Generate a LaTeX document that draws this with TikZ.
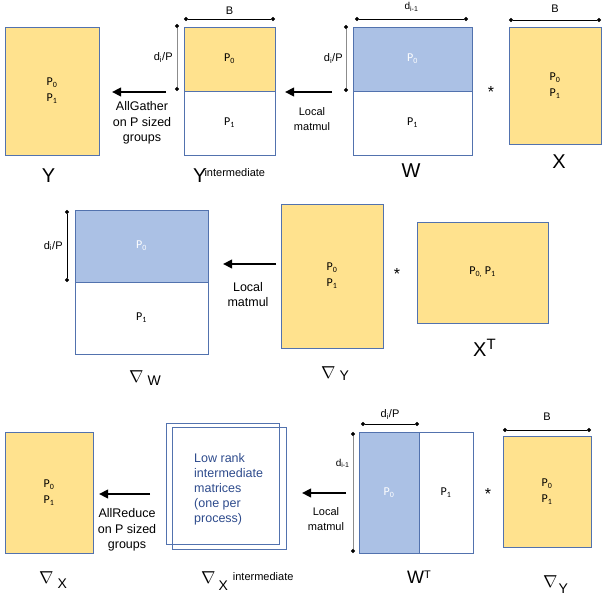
\documentclass[tikz,border=0pt]{standalone}
\usepackage{fontspec}
\setmainfont{Liberation Sans}
\newfontfamily\calib{Carlito}
\usetikzlibrary{positioning,arrows.meta}
\definecolor{oro}{HTML}{FFE28E}
\definecolor{azul}{HTML}{ABC1E5}
\definecolor{borde}{HTML}{5272AE}
\definecolor{tinta}{HTML}{2E4B8C}
\definecolor{gris}{HTML}{8C8C8C}
\newcommand{\pz}{P\textsubscript{0}}
\newcommand{\pu}{P\textsubscript{1}}
% gradient label: letter, drop, gap
\newcommand{\grd}[3]{{\fontsize{17}{17}\selectfont$\nabla$}\hspace{#3}\raisebox{-#2}{\fontsize{14}{14}\selectfont #1}}

\begin{document}
\begin{tikzpicture}[x=1pt,y=-1pt,
    blk/.style={draw=borde,line width=0.9pt,inner sep=0pt,outer sep=0pt,align=center,
                font=\calib\fontsize{12}{16}\selectfont},
    amar/.style={blk,fill=oro},
    azu/.style={blk,fill=azul,text=white},
    blan/.style={blk,fill=white},
    fl/.style={-{Triangle[length=9pt,width=8.5pt]},line width=2.3pt},
    cota/.style={{Circle[length=4pt,color=black]}-{Circle[length=4pt,color=black]},line width=0.8pt},
    note/.style={align=center,font=\fontsize{12.5}{15.5}\selectfont,inner sep=0pt},
    lbl/.style={inner sep=0pt,anchor=base west,font=\fontsize{20}{20}\selectfont},
    tag/.style={inner sep=0pt,font=\fontsize{11}{12}\selectfont},
    ast/.style={inner sep=0pt,anchor=north,font=\fontsize{16}{16}\selectfont}]
  \useasboundingbox (0,0) rectangle (602,596);

  % forward: Y = W * X
  \node[amar,minimum width=94pt,minimum height=128pt] (y) at (52,91) {\pz\\\pu};
  \node[amar,minimum width=91pt,minimum height=64pt] (ytop) at (229.5,59) {\pz};
  \node[blan,minimum width=91pt,minimum height=64pt,below=0pt of ytop] (ybot) {\pu};
  \node[azu,minimum width=119pt,minimum height=64pt] (wtop) at (412.5,59) {\pz};
  \node[blan,minimum width=119pt,minimum height=64pt,below=0pt of wtop] (wbot) {\pu};
  \node[amar,minimum width=92pt,minimum height=117pt] (x) at (555,85.5) {\pz\\\pu};
  \draw[cota] ([yshift=8pt]ytop.north west) -- ([yshift=8pt]ytop.north east)
    node[tag,midway,above=4pt] (b1) {B};
  \draw[cota,draw=gris] ([xshift=-7pt,yshift=3pt]ytop.north west) -- ([xshift=-7pt]ytop.south west)
    node[tag,midway,left=4pt] (d1) {d\textsubscript{i}/P};
  \draw[cota] ([xshift=2pt,yshift=8pt]wtop.north west) -- ([xshift=-4pt,yshift=8pt]wtop.north east)
    node[tag,midway,above=7pt,font=\fontsize{10}{11}\selectfont] (d2) {d\textsubscript{i-1}};
  \draw[cota,draw=gris] ([xshift=-7pt,yshift=2pt]wtop.north west) -- ([xshift=-7pt,yshift=-1pt]wtop.south west)
    node[tag,midway,left=3pt] (d3) {d\textsubscript{i}/P};
  \draw[cota] ([yshift=7pt]x.north west) -- ([yshift=7pt]x.north east)
    node[tag,midway,above=7pt] (b2) {B};
  \coordinate (a1) at (166,92);
  \coordinate (a1e) at (112,92);
  \draw[fl] (a1) -- (a1e);
  \node[note] (ag) at (142,123) {AllGather\\on P sized\\groups};
  \coordinate (a2) at (332,92);
  \coordinate (a2e) at (285,92);
  \draw[fl] (a2) -- (a2e);
  \node[note,font=\fontsize{11}{15}\selectfont] (lm1) at (312,119.5) {Local\\matmul};
  \node[ast] (s1) at (491,86) {*};
  \node[lbl,anchor=base] (ly) at (48.5,183) {Y};
  \node[lbl] (lyi) at (193,183) {Y\hspace{-2pt}\raisebox{6pt}{\fontsize{11}{12}\selectfont intermediate}};
  \node[lbl,anchor=base] (lw) at (411,178) {W};
  \node[lbl,anchor=base] (lx) at (559,169) {X};

  % grad W = grad Y * X^T
  \node[azu,minimum width=133pt,minimum height=72pt] (gwtop) at (141.5,246) {\pz};
  \node[blan,minimum width=133pt,minimum height=72pt,below=0pt of gwtop] (gwbot) {\pu};
  \draw[cota] ([xshift=-8pt]gwtop.north west) -- ([xshift=-8pt]gwtop.south west)
    node[tag,midway,left=4pt] (d4) {d\textsubscript{i}/P};
  \coordinate (a3) at (276,264);
  \coordinate (a3e) at (223,264);
  \draw[fl] (a3) -- (a3e);
  \node[note] (lm2) at (248,294.5) {Local\\matmul};
  \node[amar,minimum width=102pt,minimum height=144pt] (gy) at (332,276) {\pz\\\pu};
  \node[ast] (s2) at (397,268) {*};
  \node[amar,minimum width=131pt,minimum height=101pt] (xt) at (482.5,272.5) {P\textsubscript{0,} \pu};
  \node[lbl] (lgw) at (129,382) {\grd{W}{3pt}{4pt}};
  \node[lbl] (lgy) at (321,378) {\grd{Y}{2pt}{4pt}};
  \node[lbl] (lxt) at (473,356) {X\raisebox{7pt}{\fontsize{15}{15}\selectfont T}};

  % grad X = W^T * grad Y
  \node[amar,minimum width=88pt,minimum height=121pt] (gx) at (49,492.5) {\pz\\\pu};
  \coordinate (a4) at (150,494);
  \coordinate (a4e) at (99,494);
  \draw[fl] (a4) -- (a4e);
  \node[note] (ar) at (127,530) {AllReduce\\on P sized\\groups};
  \node[blk,minimum width=113pt,minimum height=121pt] (lr1) at (222.5,483.5) {};
  \node[blk,minimum width=114pt,minimum height=122pt] (lr2) at (229,488) {};
  \node[note,align=left,anchor=west,text=tinta,font=\fontsize{12.5}{15}\selectfont] (lrt) at (194,489)
    {Low rank\\intermediate\\matrices\\(one per\\process)};
  \coordinate (a5) at (346,493);
  \coordinate (a5e) at (302,493);
  \draw[fl] (a5) -- (a5e);
  \node[note,font=\fontsize{11}{15}\selectfont] (lm3) at (326,519.5) {Local\\matmul};
  \node[azu,minimum width=60pt,minimum height=121pt] (wtl) at (389,492.5) {\pz};
  \node[blan,minimum width=54pt,minimum height=121pt,right=0pt of wtl] (wtr) {\pu};
  \draw[cota] ([xshift=2pt,yshift=8pt]wtl.north west) -- ([yshift=8pt]wtl.north east)
    node[tag,midway,above=4pt] (d5) {d\textsubscript{i}/P};
  \draw[cota,draw=gris] ([xshift=-6pt]wtl.north west) -- ([xshift=-6pt]wtl.south west)
    node[tag,pos=0.26,left=3pt,font=\fontsize{10}{11}\selectfont] (d6) {d\textsubscript{i-1}};
  \node[ast] (s3) at (488,488) {*};
  \node[amar,minimum width=88pt,minimum height=111pt] (gy2) at (547,491.5) {\pz\\\pu};
  \draw[cota] ([yshift=6pt]gy2.north west) -- ([yshift=6pt]gy2.north east)
    node[tag,midway,above=9pt] (b3) {B};
  \node[lbl] (lgx) at (39,583) {\grd{X}{5pt}{4pt}};
  \node[lbl] (lgxi) at (201,583) {\grd{X}{7pt}{3pt}\hspace{5pt}\raisebox{3pt}{\fontsize{11}{12}\selectfont intermediate}};
  \node[lbl,font=\fontsize{18}{18}\selectfont] (lwt) at (407,583) {W\raisebox{5pt}{\fontsize{11}{11}\selectfont T}};
  \node[lbl] (lgy2) at (543,587) {\grd{Y}{6pt}{1pt}};
\end{tikzpicture}
\end{document}
